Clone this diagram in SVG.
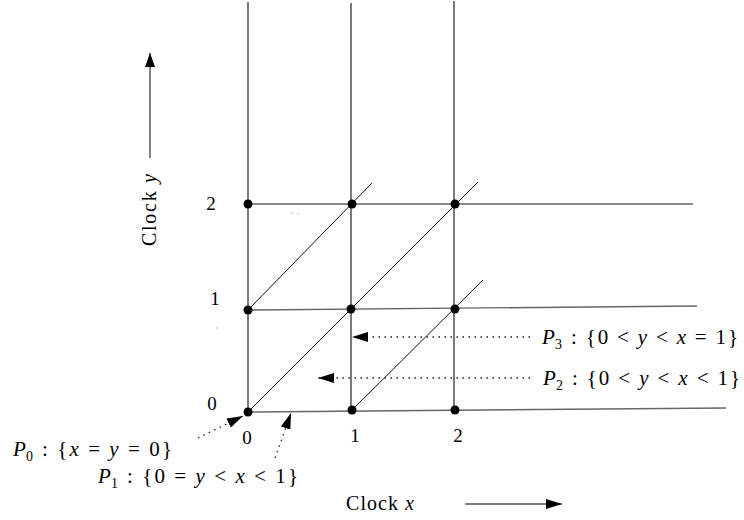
<svg xmlns="http://www.w3.org/2000/svg" width="744" height="520" viewBox="0 0 744 520">
<style>
.g{stroke:#333;stroke-width:1.3;fill:none}
.h{stroke:#666;stroke-width:1.4;fill:none}
.d{stroke:#111;stroke-width:1;fill:none}
.dot{fill:#000}
.dl{stroke:#222;stroke-width:1.3;stroke-dasharray:1.5 4.5;fill:none}
.t{font-family:"Liberation Serif","DejaVu Serif",serif;font-size:21px;fill:#000}
.n{font-size:19px}
.c{font-size:20px}
.i{font-style:italic}
.s{font-size:14px}
</style>
<defs>
<marker id="ah" viewBox="0 0 14 10" refX="14" refY="5" markerWidth="14" markerHeight="10" markerUnits="userSpaceOnUse" orient="auto">
<path d="M0,0 L14,5 L0,10 Z" fill="#000"/>
</marker>
<marker id="ab" viewBox="0 0 16 10" refX="16" refY="5" markerWidth="16" markerHeight="10" markerUnits="userSpaceOnUse" orient="auto">
<path d="M0,0 L16,5 L0,10 Z" fill="#000"/>
</marker>
</defs>
<g id="grid">
<line class="g" x1="248" y1="2" x2="248" y2="412"/>
<line class="g" x1="351" y1="3" x2="351" y2="410"/>
<line class="g" x1="454" y1="1" x2="454" y2="410"/>
<line class="h" x1="248" y1="204" x2="693" y2="204"/>
<line class="h" x1="248" y1="310" x2="697" y2="306"/>
<line class="h" x1="248" y1="412" x2="726" y2="408"/>
<line class="d" x1="248" y1="310" x2="372" y2="183"/>
<line class="d" x1="248" y1="412" x2="478" y2="182"/>
<line class="d" x1="352" y1="410" x2="483" y2="280"/>
</g>
<g id="nodes">
<circle class="dot" cx="248" cy="204" r="4.5"/>
<circle class="dot" cx="352" cy="204" r="4.5"/>
<circle class="dot" cx="455" cy="204" r="4.5"/>
<circle class="dot" cx="248" cy="310" r="4.5"/>
<circle class="dot" cx="351" cy="309" r="4.5"/>
<circle class="dot" cx="455" cy="309" r="4.5"/>
<circle class="dot" cx="248" cy="412" r="4.5"/>
<circle class="dot" cx="352" cy="410" r="4.5"/>
<circle class="dot" cx="455" cy="410" r="4.5"/>
<circle cx="292" cy="213" r="0.6" fill="#888"/>
<circle cx="298" cy="214" r="0.6" fill="#888"/>
<circle cx="217" cy="328" r="0.7" fill="#888"/>
</g>
<g id="labels">
<text class="t n" x="211" y="210" text-anchor="middle">2</text>
<text class="t n" x="215" y="305" text-anchor="middle">1</text>
<text class="t n" x="212" y="410" text-anchor="middle">0</text>
<text class="t n" x="247" y="444" text-anchor="middle">0</text>
<text class="t n" x="355" y="442" text-anchor="middle">1</text>
<text class="t n" x="458" y="442" text-anchor="middle">2</text>
</g>
<g id="connectors">
<line class="dl" x1="530" y1="337" x2="352" y2="337" marker-end="url(#ab)"/>
<line class="dl" x1="530" y1="378" x2="318" y2="378" marker-end="url(#ab)"/>
<line class="dl" x1="198" y1="438" x2="243" y2="416" marker-end="url(#ab)"/>
<line class="dl" x1="275" y1="458" x2="291" y2="413" marker-end="url(#ab)"/>
<line stroke="#333" stroke-width="1.2" x1="150" y1="158" x2="150" y2="53" marker-end="url(#ah)"/>
<line stroke="#000" stroke-width="1.2" x1="465" y1="504" x2="562" y2="504" marker-end="url(#ab)"/>
</g>
<g id="p3">
<text class="t i" x="542" y="344">P</text><text class="t s" x="555" y="349">3</text>
<text class="t" x="571" y="344" textLength="167">: {0 &lt; <tspan class="i">y</tspan> &lt; <tspan class="i">x</tspan> = 1}</text>
</g>
<g id="p2">
<text class="t i" x="543" y="385">P</text><text class="t s" x="556" y="390">2</text>
<text class="t" x="572" y="385" textLength="168">: {0 &lt; <tspan class="i">y</tspan> &lt; <tspan class="i">x</tspan> &lt; 1}</text>
</g>
<g id="p0">
<text class="t i" x="13" y="456">P</text><text class="t s" x="26" y="461">0</text>
<text class="t" x="42" y="456" textLength="130">: {<tspan class="i">x</tspan> = <tspan class="i">y</tspan> = 0}</text>
</g>
<g id="p1">
<text class="t i" x="98" y="483">P</text><text class="t s" x="111" y="488">1</text>
<text class="t" x="127" y="483" textLength="171">: {0 = <tspan class="i">y</tspan> &lt; <tspan class="i">x</tspan> &lt; 1}</text>
</g>
<g id="axes">
<text class="t c" x="346" y="510" textLength="68">Clock <tspan class="i">x</tspan></text>
<text class="t c" transform="translate(156,210) rotate(-90)" x="-36" textLength="72">Clock <tspan class="i">y</tspan></text>
</g>
</svg>
